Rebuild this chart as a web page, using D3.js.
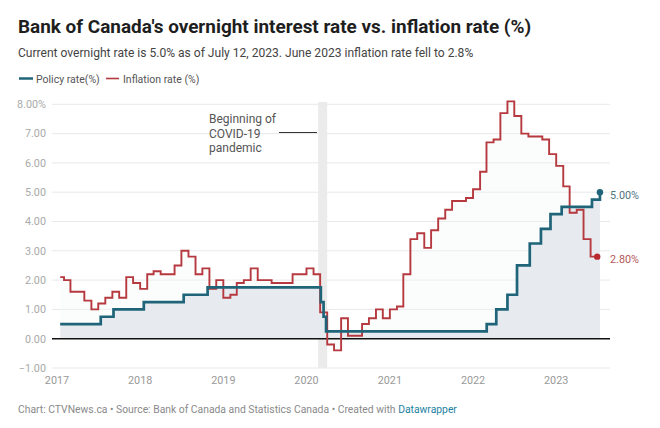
<!DOCTYPE html>
<html><head><meta charset="utf-8">
<script src="https://cdn.jsdelivr.net/npm/d3@7"></script>
<style>
html,body{margin:0;padding:0;background:#fff;}
svg{display:block;font-family:Roboto,sans-serif;}
</style></head><body>
<svg id="c" width="660" height="428"></svg>
<script>
const titleText="Bank of Canada's overnight interest rate vs. inflation rate (%)";
const subtitleText="Current overnight rate is 5.0% as of July 12, 2023. June 2023 inflation rate fell to 2.8%";
const seriesNames=["Policy rate(%)","Inflation rate (%)"];
const yTicks=[-1,0,1,2,3,4,5,6,7,8];
const xTickYears=[2017,2018,2019,2020,2021,2022,2023];
const covidBand=["2020-03-01","2020-04-10"];
const annotationLines=["Beginning of","COVID-19","pandemic"];
const policyDates=["2017-01-15","2017-07-12","2017-09-06","2018-01-17","2018-07-11","2018-10-24","2020-03-04","2020-03-16","2020-03-27","2022-03-02","2022-04-13","2022-06-01","2022-07-13","2022-09-07","2022-10-26","2022-12-07","2023-01-25","2023-06-07","2023-07-12"];
const policyValues=[0.5,0.75,1,1.25,1.5,1.75,1.25,0.75,0.25,0.5,1,1.5,2.5,3.25,3.75,4.25,4.5,4.75,5];
const inflationFirstDate="2017-01-15";
const inflationLastDate="2023-06-30";
const inflationValues=[2.1,2.0,1.6,1.6,1.3,1.0,1.2,1.4,1.6,1.4,2.1,1.9,
1.7,2.2,2.3,2.2,2.2,2.5,3.0,2.8,2.2,2.4,1.7,2.0,
1.4,1.5,1.9,2.0,2.4,2.0,2.0,1.9,1.9,1.9,2.2,2.2,
2.4,2.2,0.9,-0.2,-0.4,0.7,0.1,0.1,0.5,0.7,1.0,0.7,
1.0,1.1,2.2,3.4,3.6,3.1,3.7,4.1,4.4,4.7,4.7,4.8,
5.1,5.7,6.7,6.8,7.7,8.1,7.6,7.0,6.9,6.9,6.8,6.3,
5.9,5.2,4.3,4.4,3.4,2.8];

const parse=d3.utcParse("%Y-%m-%d");
const x=d3.scaleUtc().domain([parse("2017-01-01"),parse("2023-01-01")]).range([57,556.2]);
const y=d3.scaleLinear().domain([-1,8]).range([368,104.3]);
const svg=d3.select("#c");

const policy=policyDates.map((d,i)=>({date:parse(d),v:policyValues[i]}));
const inflation=inflationValues.map((v,i)=>({date:i===0?parse(inflationFirstDate):new Date(Date.UTC(2017,i,1)),v}));
inflation.push({date:parse(inflationLastDate),v:inflationValues[inflationValues.length-1]});
const lastP=policy[policy.length-1], lastI=inflation[inflation.length-1];

svg.append("text").attr("x",18).attr("y",33).attr("font-size",18.93).attr("font-weight",700).attr("fill","#1e1e1e").text(titleText);
svg.append("text").attr("x",18).attr("y",57).attr("font-size",12.07).attr("fill","#444").text(subtitleText);

// legend
const lg=svg.append("g");
lg.append("line").attr("x1",19).attr("x2",33).attr("y1",78.5).attr("y2",78.5).attr("stroke","#1f6478").attr("stroke-width",2.5);
lg.append("text").attr("x",36).attr("y",83).attr("font-size",10.5).attr("fill","#555").text(seriesNames[0]);
lg.append("line").attr("x1",106).attr("x2",119).attr("y1",78.5).attr("y2",78.5).attr("stroke","#b5393f").attr("stroke-width",1.6);
lg.append("text").attr("x",123).attr("y",83).attr("font-size",10.5).attr("fill","#555").text(seriesNames[1]);

// grid
svg.append("g").selectAll("line").data(yTicks.filter(d=>d!==0)).join("line")
 .attr("x1",52).attr("x2",610).attr("y1",d=>y(d)).attr("y2",d=>y(d)).attr("stroke","#e9e9e9").attr("stroke-width",1);

// y labels
svg.append("g").selectAll("text").data(yTicks).join("text")
 .attr("x",46).attr("y",d=>y(d)+3.8).attr("text-anchor","end").attr("font-size",10.8).attr("fill","#aaa")
 .text(d=>d===8?"8.00%":(d<0?"\u2212":"")+Math.abs(d).toFixed(2));

// x labels
svg.append("g").selectAll("text").data(xTickYears).join("text")
 .attr("x",d=>x(new Date(Date.UTC(d,0,1)))).attr("y",383.5).attr("text-anchor","middle").attr("font-size",10.8).attr("fill","#999").text(d=>d);

// covid band
svg.append("rect").attr("x",x(parse(covidBand[0]))-2).attr("width",9).attr("y",102).attr("height",266).attr("fill","#ebebeb");

// inflation faint area
const area=d3.area().curve(d3.curveStepAfter).x(d=>x(d.date)).y0(y(0)).y1(d=>y(d.v));
svg.append("path").datum(inflation).attr("d",area).attr("fill","#f2f4f6").attr("fill-opacity",0.3);
svg.append("path").datum(policy).attr("d",area).attr("fill","#e6eaee").attr("fill-opacity",0.95);

// zero line
svg.append("line").attr("x1",52).attr("x2",610).attr("y1",y(0)).attr("y2",y(0)).attr("stroke","#111").attr("stroke-width",1.4);

const line=d3.line().curve(d3.curveStepAfter).x(d=>x(d.date)).y(d=>y(d.v));
svg.append("path").datum(inflation).attr("d",line).attr("fill","none").attr("stroke","#b5393f").attr("stroke-width",1.9);
svg.append("path").datum(policy).attr("d",line).attr("fill","none").attr("stroke","#1f6478").attr("stroke-width",2.7);

svg.append("circle").attr("cx",x(lastI.date)).attr("cy",y(lastI.v)).attr("r",3.2).attr("fill","#b82a2e");
svg.append("circle").attr("cx",x(lastP.date)).attr("cy",y(lastP.v)).attr("r",3.2).attr("fill","#1f6478");
svg.append("text").attr("x",610).attr("y",y(lastP.v)+7).attr("font-size",10.8).attr("fill","#4f7480").text("5.00%");
svg.append("text").attr("x",610).attr("y",y(lastI.v)+6).attr("font-size",10.8).attr("fill","#b5575b").text("2.80%");

// annotation
svg.append("g").selectAll("text").data(annotationLines).join("text")
 .attr("x",209).attr("y",(d,i)=>123+i*14.5).attr("font-size",12).attr("fill","#555").text(d=>d);
svg.append("line").attr("x1",279).attr("x2",317).attr("y1",132.5).attr("y2",132.5).attr("stroke","#333").attr("stroke-width",1);

// footer
const f=svg.append("text").attr("x",18).attr("y",413).attr("font-size",10.35).attr("fill","#8a8a8a");
f.append("tspan").text("Chart: CTVNews.ca \u2022 Source: Bank of Canada and Statistics Canada \u2022 Created with ");
f.append("tspan").attr("fill","#1d81a2").text("Datawrapper");
</script></body></html>
